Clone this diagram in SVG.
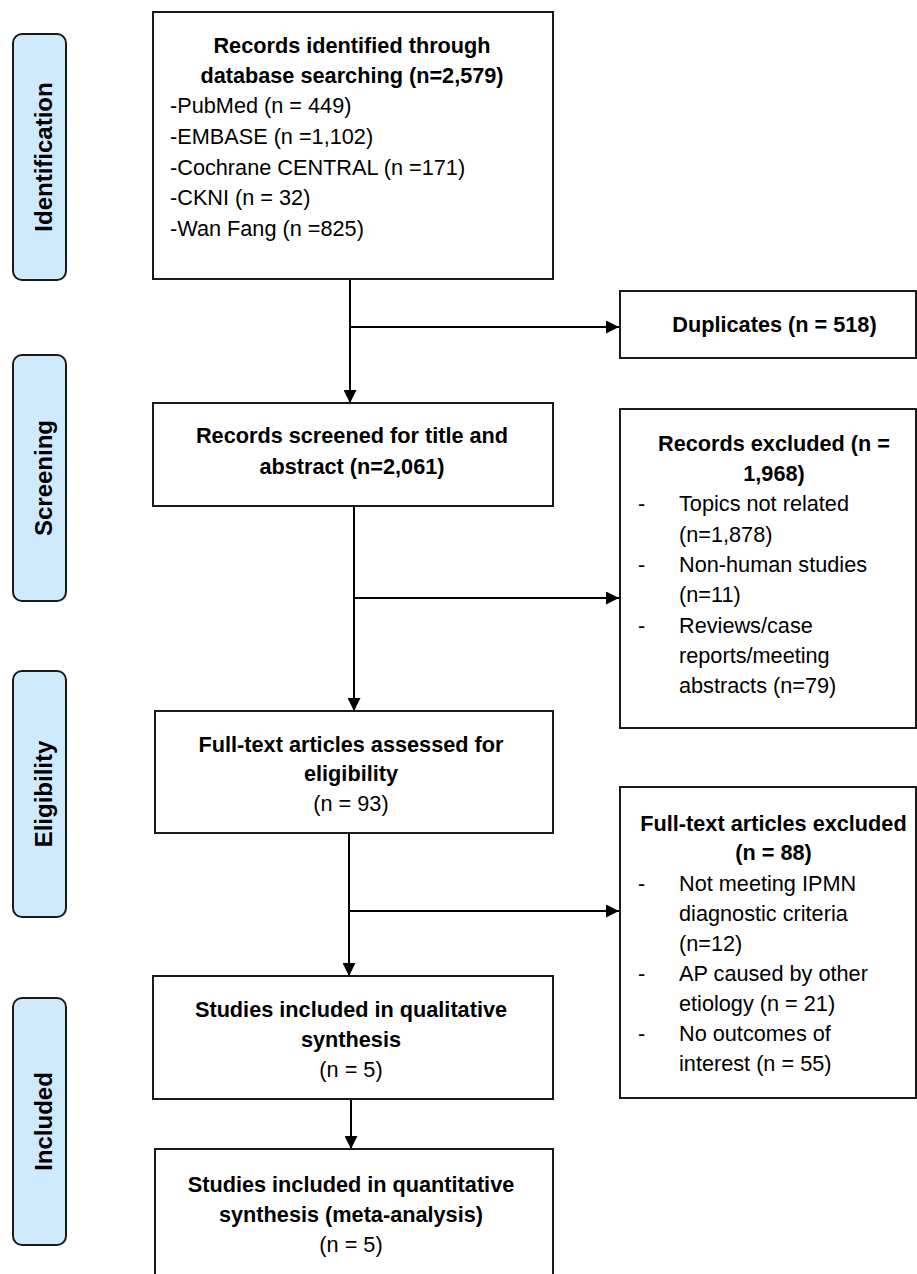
<svg xmlns="http://www.w3.org/2000/svg" width="917" height="1274" viewBox="0 0 917 1274">
<style>
.box{fill:#fff;stroke:#1a1a1a;stroke-width:2}
.stage{fill:#cfeafc;stroke:#1a1a1a;stroke-width:2}
.t{font-family:"Liberation Sans",Arial,sans-serif;font-size:21.7px;fill:#000}
.b{font-weight:bold}
.c{text-anchor:middle}
.st{font-family:"Liberation Sans",Arial,sans-serif;font-size:24px;font-weight:bold;text-anchor:middle;fill:#000}
.conn{fill:none;stroke:#000;stroke-width:2}
</style>
<defs>
<marker id="arr" markerUnits="userSpaceOnUse" markerWidth="13" markerHeight="13" refX="13" refY="6.5" orient="auto">
<path d="M0,0 L13,6.5 L0,13 z" fill="#000"/>
</marker>
</defs>
<rect width="917" height="1274" fill="#fff"/>

<g id="stage-identification">
<rect class="stage" x="13" y="34" width="53" height="246" rx="9"/>
<text class="st" transform="translate(52,157) rotate(-90)">Identification</text>
</g>
<g id="stage-screening">
<rect class="stage" x="13" y="355" width="53" height="246" rx="9"/>
<text class="st" transform="translate(52,478) rotate(-90)">Screening</text>
</g>
<g id="stage-eligibility">
<rect class="stage" x="13" y="671" width="53" height="246" rx="9"/>
<text class="st" transform="translate(52,794) rotate(-90)">Eligibility</text>
</g>
<g id="stage-included">
<rect class="stage" x="13" y="998" width="53" height="247" rx="9"/>
<text class="st" transform="translate(52,1121.5) rotate(-90)">Included</text>
</g>

<g id="connectors">
<line class="conn" x1="350" y1="279" x2="350" y2="403" marker-end="url(#arr)"/>
<line class="conn" x1="350" y1="327" x2="619" y2="327" marker-end="url(#arr)"/>
<line class="conn" x1="354" y1="506" x2="354" y2="711" marker-end="url(#arr)"/>
<line class="conn" x1="354" y1="598" x2="619" y2="598" marker-end="url(#arr)"/>
<line class="conn" x1="349" y1="833" x2="349" y2="976" marker-end="url(#arr)"/>
<line class="conn" x1="349" y1="911" x2="619" y2="911" marker-end="url(#arr)"/>
<line class="conn" x1="351" y1="1099" x2="351" y2="1149" marker-end="url(#arr)"/>
</g>

<g id="node-records-identified">
<rect class="box" x="153" y="12" width="400" height="267"/>
<text class="t b c" x="352" y="53">Records identified through</text>
<text class="t b c" x="352" y="83">database searching (n=2,579)</text>
<text class="t" x="170" y="113">-PubMed (n = 449)</text>
<text class="t" x="170" y="144">-EMBASE (n =1,102)</text>
<text class="t" x="170" y="174.5">-Cochrane CENTRAL (n =171)</text>
<text class="t" x="170" y="205">-CKNI (n = 32)</text>
<text class="t" x="170" y="235.5">-Wan Fang (n =825)</text>
</g>

<g id="node-duplicates">
<rect class="box" x="620" y="291" width="296" height="67"/>
<text class="t b c" x="774.5" y="332">Duplicates (n = 518)</text>
</g>

<g id="node-records-screened">
<rect class="box" x="153" y="403" width="400" height="103"/>
<text class="t b c" x="352" y="443">Records screened for title and</text>
<text class="t b c" x="352" y="474">abstract (n=2,061)</text>
</g>

<g id="node-records-excluded">
<rect class="box" x="620" y="409" width="296" height="319"/>
<text class="t b c" x="774" y="451">Records excluded (n =</text>
<text class="t b c" x="774" y="481">1,968)</text>
<text class="t" x="638" y="511">-</text>
<text class="t" x="679" y="511">Topics not related</text>
<text class="t" x="679" y="541.5">(n=1,878)</text>
<text class="t" x="638" y="572">-</text>
<text class="t" x="679" y="572">Non-human studies</text>
<text class="t" x="679" y="602">(n=11)</text>
<text class="t" x="638" y="632.5">-</text>
<text class="t" x="679" y="632.5">Reviews/case</text>
<text class="t" x="679" y="662.5">reports/meeting</text>
<text class="t" x="679" y="693">abstracts (n=79)</text>
</g>

<g id="node-fulltext-assessed">
<rect class="box" x="155" y="711" width="398" height="122"/>
<text class="t b c" x="351" y="752">Full-text articles assessed for</text>
<text class="t b c" x="351" y="781">eligibility</text>
<text class="t c" x="351" y="811">(n = 93)</text>
</g>

<g id="node-fulltext-excluded">
<rect class="box" x="620" y="787" width="296" height="311"/>
<text class="t b c" x="773.5" y="831">Full-text articles excluded</text>
<text class="t b c" x="773.5" y="860">(n =  88)</text>
<text class="t" x="638" y="891">-</text>
<text class="t" x="679" y="891">Not meeting IPMN</text>
<text class="t" x="679" y="921">diagnostic criteria</text>
<text class="t" x="679" y="951">(n=12)</text>
<text class="t" x="638" y="981">-</text>
<text class="t" x="679" y="981">AP caused by other</text>
<text class="t" x="679" y="1011">etiology (n = 21)</text>
<text class="t" x="638" y="1041">-</text>
<text class="t" x="679" y="1041">No outcomes of</text>
<text class="t" x="679" y="1071">interest (n = 55)</text>
</g>

<g id="node-qualitative">
<rect class="box" x="153" y="976" width="400" height="123"/>
<text class="t b c" x="351" y="1017">Studies included in qualitative</text>
<text class="t b c" x="351" y="1047">synthesis</text>
<text class="t c" x="351" y="1077">(n = 5)</text>
</g>

<g id="node-quantitative">
<rect class="box" x="155" y="1149" width="398" height="140"/>
<text class="t b c" x="351" y="1192">Studies included in quantitative</text>
<text class="t b c" x="351" y="1222">synthesis (meta-analysis)</text>
<text class="t c" x="351" y="1252">(n = 5)</text>
</g>
</svg>
